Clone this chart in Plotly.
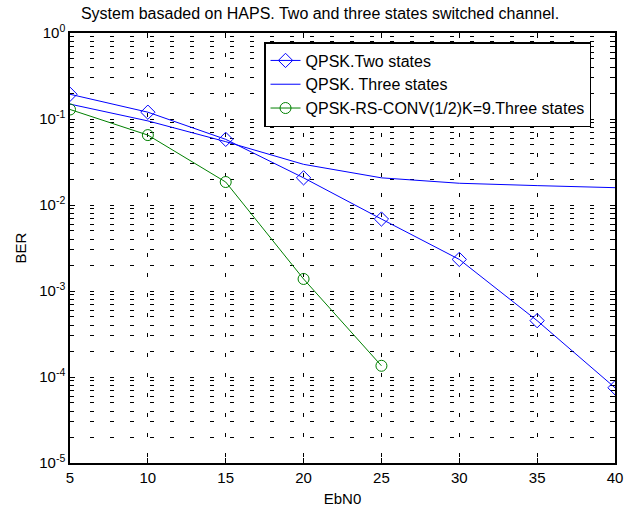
import plotly.graph_objects as go

ebn0 = [5, 10, 15, 20, 25, 30, 35, 40]
ber_two = [0.194, 0.120, 0.058, 0.0207, 0.00687, 0.00233, 0.000452, 7.5e-5]
ber_three = [0.149, 0.095, 0.0545, 0.0297, 0.0207, 0.0179, 0.0168, 0.0159]
ebn0_coded = [5, 10, 15, 20, 25]
ber_coded = [0.129, 0.065, 0.0185, 0.00138, 0.000135]

names = ["QPSK.Two states", "QPSK. Three states", "QPSK-RS-CONV(1/2)K=9.Three states"]
title = "System basaded on HAPS. Two and three states switched channel."

y_major = [1e-5, 1e-4, 1e-3, 1e-2, 1e-1, 1e0]
y_major_text = ["10<sup>-5</sup>", "10<sup>-4</sup>", "10<sup>-3</sup>", "10<sup>-2</sup>",
                "10<sup>-1</sup>", "10<sup>0</sup>"]
y_minor = [m * 10.0 ** e for e in range(-5, 0) for m in range(2, 10)]

font = "Liberation Sans, Arial, sans-serif"
dash = "4px,16px"

fig = go.Figure()
fig.add_trace(go.Scatter(x=ebn0, y=ber_two, name=names[0], mode="lines+markers",
                         line=dict(color="#0000ff", width=1),
                         marker=dict(symbol="diamond-open", size=11, color="#0000ff",
                                     line=dict(width=1))))
fig.add_trace(go.Scatter(x=ebn0, y=ber_three, name=names[1], mode="lines",
                         line=dict(color="#0000ff", width=1)))
fig.add_trace(go.Scatter(x=ebn0_coded, y=ber_coded, name=names[2], mode="lines+markers",
                         line=dict(color="#008000", width=1),
                         marker=dict(symbol="circle-open", size=11, color="#008000",
                                     line=dict(width=1))))

fig.update_layout(
    width=640, height=509,
    margin=dict(l=70, r=25, t=33, b=46, autoexpand=False),
    paper_bgcolor="white", plot_bgcolor="white",
    font=dict(family=font, size=15, color="black"),
    title=dict(text=title, x=0.5, xanchor="center", y=0.984, yanchor="top",
               font=dict(size=16)),
    legend=dict(x=0.356, y=0.979, xanchor="left", yanchor="top",
                bgcolor="white", bordercolor="black", borderwidth=1.5,
                font=dict(size=16), itemwidth=30, tracegroupgap=0),
    showlegend=True,
)
fig.update_xaxes(
    range=[5, 40], tickvals=ebn0, ticks="inside", ticklen=5, tickcolor="black",
    showline=True, linecolor="black", linewidth=1.5, mirror="ticks",
    showgrid=True, gridcolor="black", gridwidth=1, griddash=dash,
    zeroline=False, automargin=False, tickfont=dict(size=15),
    title=dict(text="EbN0", standoff=9, font=dict(size=15)),
)
fig.update_yaxes(
    type="log", range=[-5, 0], tickvals=y_major, ticktext=y_major_text,
    ticks="inside", ticklen=5, tickcolor="black",
    showline=True, linecolor="black", linewidth=1.5, mirror="ticks",
    showgrid=True, gridcolor="black", gridwidth=1, griddash=dash,
    minor=dict(tickvals=y_minor, ticks="inside", ticklen=3, tickcolor="black",
               showgrid=True, gridcolor="black", gridwidth=1, griddash=dash),
    zeroline=False, automargin=False, tickfont=dict(size=15),
    title=dict(text="BER", standoff=9, font=dict(size=15)),
)

fig.write_html("out.html", config={"displayModeBar": False},
               post_script="document.body.style.margin='0';")
